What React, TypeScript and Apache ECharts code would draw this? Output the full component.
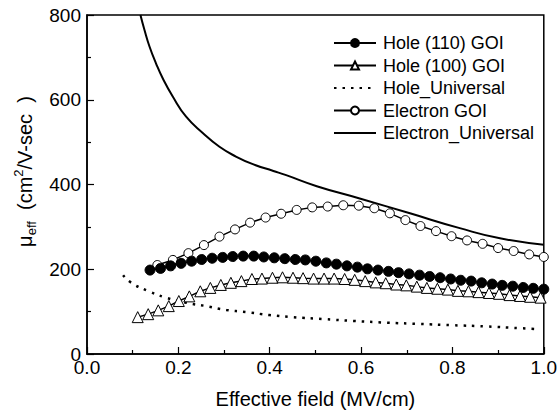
import React, { useEffect, useRef } from "react";
import * as echarts from "echarts";

const FONT = "'Liberation Sans', Arial, sans-serif";

const seriesNames = ["Hole (110) GOI", "Hole (100) GOI", "Hole_Universal", "Electron GOI", "Electron_Universal"];

const hole110X = [0.138, 0.161, 0.183, 0.206, 0.229, 0.251, 0.274, 0.297, 0.319, 0.342, 0.365, 0.387, 0.410, 0.433, 0.456, 0.478, 0.501, 0.524, 0.546, 0.569, 0.592, 0.614, 0.637, 0.660, 0.682, 0.705, 0.728, 0.750, 0.773, 0.796, 0.818, 0.841, 0.864, 0.887, 0.909, 0.932, 0.955, 0.977, 1.0];
const hole110Y = [198, 202, 208, 214, 219, 223, 226, 228, 230, 231, 231, 229, 227, 225, 223, 222, 219, 215, 212, 208, 205, 201, 198, 195, 192, 189, 186, 183, 180, 177, 174, 172, 168, 165, 162, 160, 157, 155, 153];

const hole100X = [0.111, 0.134, 0.156, 0.179, 0.201, 0.224, 0.248, 0.270, 0.293, 0.315, 0.338, 0.361, 0.383, 0.406, 0.428, 0.451, 0.473, 0.496, 0.519, 0.541, 0.564, 0.586, 0.609, 0.632, 0.654, 0.677, 0.699, 0.722, 0.744, 0.767, 0.790, 0.812, 0.835, 0.857, 0.880, 0.902, 0.925, 0.948, 0.970, 0.993];
const hole100Y = [87, 94, 103, 113, 125, 136, 148, 156, 163, 168, 172, 177, 178, 180, 181, 180, 179, 178, 178, 178, 177, 175, 172, 169, 167, 164, 162, 159, 156, 154, 152, 149, 148, 146, 144, 142, 139, 137, 135, 133];

const holeUnivX = [0.079, 0.097, 0.133, 0.173, 0.217, 0.261, 0.305, 0.348, 0.399, 0.45, 0.523, 0.583, 0.656, 0.728, 0.8, 0.874, 0.947, 0.984];
const holeUnivY = [186, 168, 149, 133, 121, 113, 104, 99, 92, 87, 82, 78, 74, 71, 68, 65, 61, 59];

const elecGoiX = [0.154, 0.188, 0.222, 0.256, 0.290, 0.324, 0.357, 0.391, 0.425, 0.459, 0.493, 0.527, 0.561, 0.595, 0.629, 0.663, 0.697, 0.730, 0.764, 0.798, 0.832, 0.866, 0.900, 0.934, 0.968, 1.0];
const elecGoiY = [210, 222, 238, 257, 277, 294, 310, 322, 331, 340, 346, 348, 351, 350, 344, 332, 316, 302, 290, 278, 268, 260, 250, 243, 235, 229];

const elecUnivX = [0.117, 0.126, 0.137, 0.151, 0.166, 0.188, 0.217, 0.254, 0.29, 0.326, 0.363, 0.408, 0.436, 0.503, 0.597, 0.707, 0.816, 0.904, 1.0];
const elecUnivY = [800, 764, 725, 686, 650, 607, 560, 521, 489, 466, 448, 432, 422, 396, 367, 332, 297, 273, 258];

const xTicks = { min: 0, max: 1, interval: 0.2 };
const yTicks = { min: 0, max: 800, interval: 200 };

const zip = (xs: number[], ys: number[]) => xs.map((x, i) => [x, ys[i]]);

export default function App() {
  const ref = useRef<HTMLDivElement>(null);
  useEffect(() => {
    document.body.style.margin = "0";
    const chart = echarts.init(ref.current!, null, { renderer: "svg" });
    const axisCommon = {
      axisLine: { show: true, lineStyle: { color: "#000", width: 1.5 } },
      axisTick: { show: true, inside: true, length: 7, lineStyle: { color: "#000", width: 1.2 } },
      minorTick: { show: true, splitNumber: 2, length: 4, lineStyle: { color: "#000", width: 1.2 } },
      splitLine: { show: false },
      minorSplitLine: { show: false },
      axisLabel: { color: "#000", fontSize: 19, fontFamily: FONT },
      nameTextStyle: { color: "#000", fontSize: 20, fontFamily: FONT },
    };
    const hidden = { opacity: 0 };
    chart.setOption({
      animation: false,
      backgroundColor: "#fff",
      grid: { left: 87, right: 16, top: 15, bottom: 65, show: true, borderColor: "#000", borderWidth: 1.5, backgroundColor: "transparent" },
      legend: {
        orient: "vertical",
        left: 333,
        top: 34,
        padding: 0,
        itemWidth: 42,
        itemHeight: 10,
        itemGap: 4.5,
        data: [
          { name: seriesNames[0] },
          { name: seriesNames[1] },
          { name: seriesNames[2], itemStyle: hidden },
          { name: seriesNames[3] },
          { name: seriesNames[4], itemStyle: hidden },
        ],
        textStyle: { color: "#000", fontSize: 18, fontFamily: FONT, padding: [0, 0, 0, 2] },
      },
      xAxis: {
        type: "value",
        ...xTicks,
        ...axisCommon,
        axisLabel: { ...axisCommon.axisLabel, margin: 4, formatter: (v: number) => v.toFixed(1) },
        name: "Effective field (MV/cm)",
        nameLocation: "middle",
        nameGap: 35,
      },
      yAxis: {
        type: "value",
        ...yTicks,
        ...axisCommon,
        axisLabel: { ...axisCommon.axisLabel, margin: 6 },
        name: "{pad|}{t|μ}{sub|eff}{t|  (cm}{sup|2}{t|/V-sec  )}",
        nameLocation: "middle",
        nameRotate: 90,
        nameGap: 47,
        nameTextStyle: {
          color: "#000",
          fontFamily: FONT,
          fontSize: 20,
          rich: {
            pad: { width: 26, lineHeight: 26 },
            t: { fontSize: 20, fontFamily: FONT, color: "#000", lineHeight: 26, verticalAlign: "middle" },
            sub: { fontSize: 13, fontFamily: FONT, color: "#000", lineHeight: 26, verticalAlign: "bottom" },
            sup: { fontSize: 13, fontFamily: FONT, color: "#000", lineHeight: 26, verticalAlign: "top" },
          },
        },
      },
      series: [
        {
          name: seriesNames[0],
          type: "line",
          data: zip(hole110X, hole110Y),
          symbol: "circle",
          symbolSize: 10,
          itemStyle: { color: "#000", borderColor: "#000", borderWidth: 1 },
          lineStyle: { color: "#000", width: 1.5 },
          z: 4,
        },
        {
          name: seriesNames[1],
          type: "line",
          data: zip(hole100X, hole100Y),
          symbol: "triangle",
          symbolSize: 11,
          itemStyle: { color: "#fff", borderColor: "#000", borderWidth: 1 },
          lineStyle: { color: "#000", width: 1.5 },
          z: 3,
        },
        {
          name: seriesNames[2],
          type: "line",
          data: zip(holeUnivX, holeUnivY),
          symbol: "none",
          smooth: true,
          lineStyle: { color: "#000", width: 2.5, type: [2.5, 6] },
          itemStyle: { color: "#000" },
          z: 2,
        },
        {
          name: seriesNames[3],
          type: "line",
          data: zip(elecGoiX, elecGoiY),
          symbol: "circle",
          symbolSize: 9,
          itemStyle: { color: "#fff", borderColor: "#000", borderWidth: 1 },
          lineStyle: { color: "#000", width: 1.5 },
          z: 3,
        },
        {
          name: seriesNames[4],
          type: "line",
          data: zip(elecUnivX, elecUnivY),
          symbol: "none",
          smooth: true,
          lineStyle: { color: "#000", width: 2 },
          itemStyle: { color: "#000" },
          z: 2,
        },
      ],
    });
    return () => chart.dispose();
  }, []);
  return <div ref={ref} style={{ width: 560, height: 419 }} />;
}
